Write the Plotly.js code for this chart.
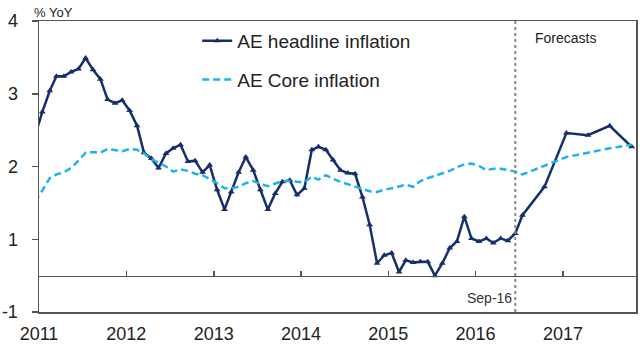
<!DOCTYPE html>
<html>
<head>
<meta charset="utf-8">
<script src="https://cdn.plot.ly/plotly-3.0.1.min.js"></script>
<style>html,body{margin:0;padding:0;background:#fff;}#chart{width:643px;height:351px;}</style>
</head>
<body>
<div id="chart"></div>
<script>
// Monthly history (mid-month) then quarterly forecasts
const dates = [
 "2010-12-15",
 "2011-01-15","2011-02-15","2011-03-15","2011-04-15","2011-05-15","2011-06-15","2011-07-15","2011-08-15","2011-09-15","2011-10-15","2011-11-15","2011-12-15",
 "2012-01-15","2012-02-15","2012-03-15","2012-04-15","2012-05-15","2012-06-15","2012-07-15","2012-08-15","2012-09-15","2012-10-15","2012-11-15","2012-12-15",
 "2013-01-15","2013-02-15","2013-03-15","2013-04-15","2013-05-15","2013-06-15","2013-07-15","2013-08-15","2013-09-15","2013-10-15","2013-11-15","2013-12-15",
 "2014-01-15","2014-02-15","2014-03-15","2014-04-15","2014-05-15","2014-06-15","2014-07-15","2014-08-15","2014-09-15","2014-10-15","2014-11-15","2014-12-15",
 "2015-01-15","2015-02-15","2015-03-15","2015-04-15","2015-05-15","2015-06-15","2015-07-15","2015-08-15","2015-09-15","2015-10-15","2015-11-15","2015-12-15",
 "2016-01-15","2016-02-15","2016-03-15","2016-04-15","2016-05-15","2016-06-15",
 "2016-07-15","2016-10-15","2017-01-15","2017-04-15","2017-07-15","2017-10-15"
];
const headline = [
 2.42,
 2.75,3.04,3.24,3.24,3.30,3.34,3.49,3.33,3.20,2.92,2.87,2.91,
 2.77,2.56,2.19,2.11,1.98,2.18,2.25,2.30,2.07,2.08,1.92,2.02,
 1.68,1.41,1.65,1.92,2.13,1.95,1.68,1.41,1.63,1.79,1.81,1.61,
 1.70,2.23,2.27,2.23,2.09,1.95,1.91,1.90,1.58,1.20,0.67,0.78,
 0.81,0.55,0.71,0.68,0.69,0.69,0.50,0.67,0.88,0.97,1.31,1.01,
 0.97,1.01,0.95,1.01,0.98,1.08,
 1.33,1.72,2.46,2.43,2.56,2.27
];
const core = [
 1.52,
 1.67,1.84,1.89,1.92,1.98,2.08,2.19,2.20,2.19,2.24,2.23,2.21,
 2.24,2.23,2.18,2.10,2.05,2.00,1.93,1.96,1.94,1.90,1.88,1.83,
 1.77,1.70,1.70,1.72,1.77,1.80,1.76,1.73,1.77,1.80,1.80,1.79,
 1.78,1.86,1.82,1.88,1.83,1.79,1.76,1.73,1.69,1.66,1.65,1.68,
 1.70,1.73,1.75,1.72,1.80,1.84,1.87,1.90,1.94,1.99,2.03,2.04,
 2.01,1.95,1.97,1.97,1.95,1.93,
 1.89,2.01,2.13,2.19,2.25,2.30
];
const yearTickVals = ["2011-01-01","2012-01-01","2013-01-01","2014-01-01","2015-01-01","2016-01-01","2017-01-01"];
const yearTickText = ["2011","2012","2013","2014","2015","2016","2017"];
const yTickVals = [0,1,2,3,4];
const yTickText = ["-1","1","2","3","4"];
const forecastStart = "2016-06-15";
const baseLevel = 0.5;

const FONT = "Liberation Sans, Arial, sans-serif";
const AXC = "#555555";

const traces = [
 {x: dates, y: headline, type: "scatter", mode: "lines+markers", name: "AE headline inflation",
  legendgroup: "a",
  line: {color: "#152f6b", width: 2.5},
  marker: {symbol: "triangle-up", size: 6, color: "#152f6b"}},
 {x: dates, y: core, type: "scatter", mode: "lines", name: "AE Core inflation",
  legendgroup: "b",
  line: {color: "#1fb2ec", width: 2.5, dash: "7px,4px"}},
 {x: yearTickVals, y: yearTickVals.map(() => null), xaxis: "x2", type: "scatter", mode: "lines",
  showlegend: false, hoverinfo: "skip"}
];

const layout = {
 width: 643, height: 351,
 margin: {l: 39, r: 7, t: 21, b: 39},
 paper_bgcolor: "#ffffff", plot_bgcolor: "#ffffff",
 font: {family: FONT, color: "#222222"},
 showlegend: true,
 legend: {x: 0.265, y: 0.997, xanchor: "left", yanchor: "top", bgcolor: "rgba(0,0,0,0)",
   font: {size: 19, color: "#222222", family: FONT}, tracegroupgap: 11, traceorder: "grouped"},
 xaxis: {type: "date", range: ["2011-01-01", "2017-11-02"], tickvals: yearTickVals, ticktext: yearTickText,
   ticks: "", showgrid: false, zeroline: false, showline: true, mirror: true, linecolor: AXC, linewidth: 1.5,
   tickfont: {size: 18, color: "#222222"}, ticklabelstandoff: 5},
 xaxis2: {type: "date", overlaying: "x", matches: "x", anchor: "free", position: baseLevel / 4,
   range: ["2011-01-01", "2017-11-02"], tickvals: yearTickVals, showticklabels: false,
   ticks: "inside", ticklen: 5, tickwidth: 1.5, tickcolor: AXC,
   showline: true, linecolor: AXC, linewidth: 1.5, showgrid: false, zeroline: false},
 yaxis: {range: [0, 4], tickvals: yTickVals, ticktext: yTickText, ticks: "outside", ticklen: 6,
   tickwidth: 1.5, tickcolor: AXC, showgrid: false, zeroline: false, showline: true, mirror: true,
   linecolor: AXC, linewidth: 1.5, tickfont: {size: 18, color: "#222222"}, ticklabelstandoff: 10},
 shapes: [
  {type: "line", xref: "x", yref: "paper", x0: forecastStart, x1: forecastStart, y0: 0, y1: 1,
   line: {color: "#8a8a8a", width: 2, dash: "dot"}}
 ],
 annotations: [
  {text: "% YoY", xref: "paper", yref: "paper", x: -0.012, y: 1.028, xanchor: "left", yanchor: "middle",
   showarrow: false, font: {size: 13, color: "#222222"}},
  {text: "Forecasts", xref: "paper", yref: "paper", x: 0.828, y: 0.94, xanchor: "left", yanchor: "middle",
   showarrow: false, font: {size: 14, color: "#222222"}},
  {text: "Sep-16", xref: "x", yref: "y", x: forecastStart, y: 0.19, xanchor: "right", yanchor: "middle",
   xshift: -1, showarrow: false, font: {size: 14, color: "#333333"}}
 ]
};

Plotly.newPlot("chart", traces, layout, {displayModeBar: false, staticPlot: true});
</script>
</body>
</html>
